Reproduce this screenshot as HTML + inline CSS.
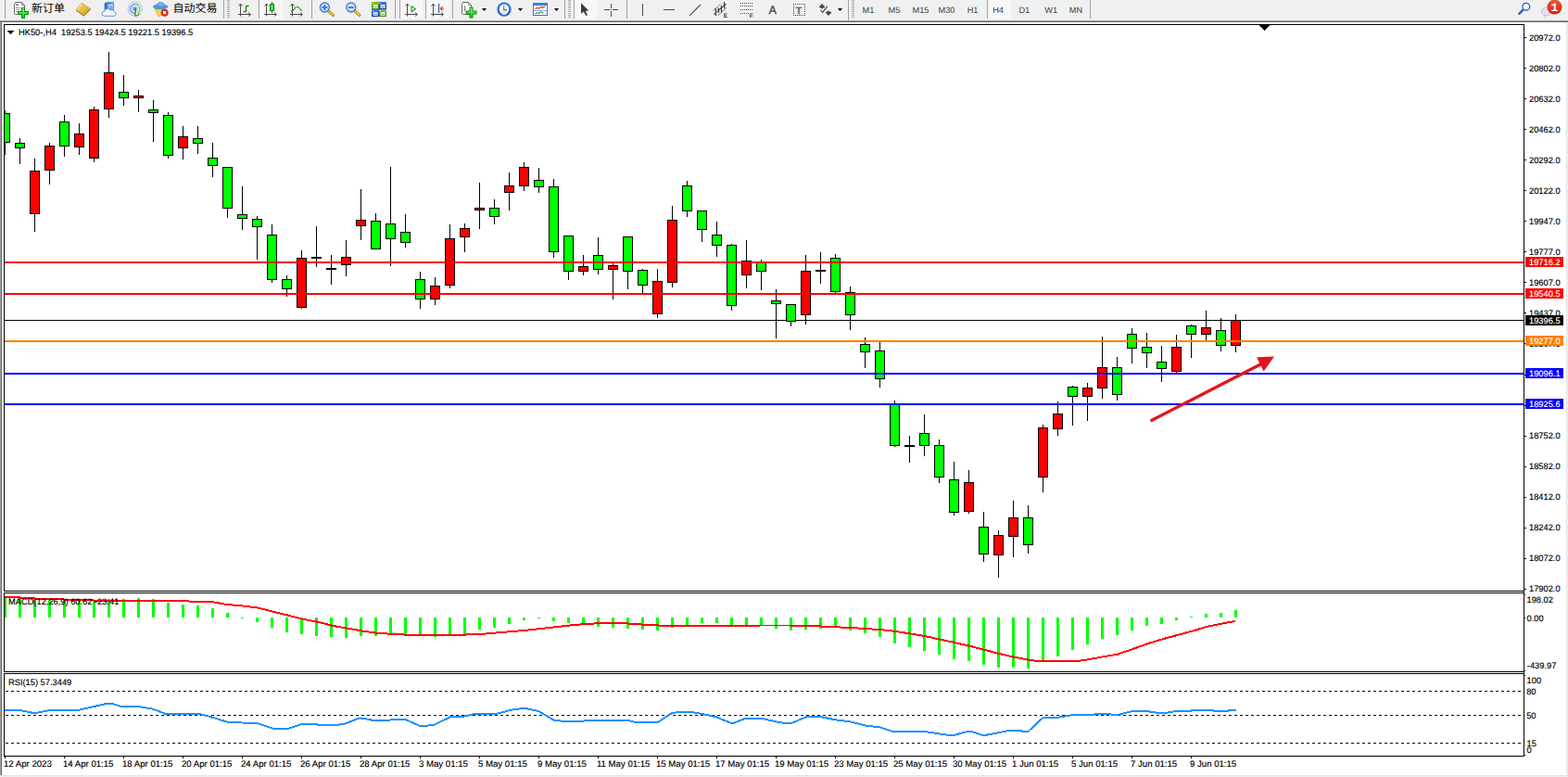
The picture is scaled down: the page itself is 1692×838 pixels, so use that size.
<!DOCTYPE html>
<html><head><meta charset="utf-8"><title>HK50 H4</title>
<style>
html,body{margin:0;padding:0;background:#fff}
body{width:1692px;height:838px;overflow:hidden;position:relative;font-family:"Liberation Sans",sans-serif}
svg{position:absolute;left:0;top:0;display:block}
text{font-family:"Liberation Sans",sans-serif;font-size:9.3px;text-rendering:geometricPrecision}
svg>text{paint-order:stroke;stroke-width:.15px}
svg>text[fill="#000"]{stroke:#000}
svg>text[fill="#fff"]{stroke:#fff}
</style></head><body>
<svg width="1692" height="838" viewBox="0 0 1692 838" shape-rendering="crispEdges">
<rect x="0" y="0" width="1692" height="838" fill="#fff"/>
<rect x="0" y="0" width="1692" height="22" fill="#f0f0f0"/>
<rect x="0" y="22" width="1692" height="1" fill="#a0a0a0"/>
<rect x="0" y="23" width="1692" height="1" fill="#696969"/>
<rect x="0" y="24" width="1" height="814" fill="#a0a0a0"/>
<rect x="1" y="24" width="1" height="814" fill="#696969"/>
<rect x="1690" y="24" width="1" height="814" fill="#e3e3e3"/>
<rect x="1691" y="24" width="1" height="814" fill="#f0f0f0"/>
<rect x="0" y="836" width="1692" height="1" fill="#e3e3e3"/>
<rect x="0" y="837" width="1692" height="1" fill="#f0f0f0"/>
<rect x="1644" y="26" width="1" height="790" fill="#000"/>
<rect x="4" y="26" width="1641" height="1" fill="#000"/>
<rect x="4" y="637" width="1641" height="1" fill="#000"/>
<rect x="4" y="26" width="1" height="612" fill="#000"/>
<rect x="4" y="639" width="1641" height="1" fill="#000"/>
<rect x="4" y="724" width="1641" height="1" fill="#000"/>
<rect x="4" y="639" width="1" height="86" fill="#000"/>
<rect x="4" y="726" width="1641" height="1" fill="#000"/>
<rect x="4" y="815" width="1641" height="1" fill="#000"/>
<rect x="4" y="726" width="1" height="90" fill="#000"/>
<rect x="5" y="345" width="1639" height="1" fill="#000"/>
<rect x="5" y="119" width="1" height="48" fill="#000"/>
<rect x="5" y="122" width="6" height="32" fill="#000"/>
<rect x="5" y="123" width="5" height="30" fill="#0f0"/>
<rect x="21" y="149" width="1" height="28" fill="#000"/>
<rect x="16" y="154" width="11" height="6" fill="#000"/>
<rect x="17" y="155" width="9" height="4" fill="#0f0"/>
<rect x="37" y="171" width="1" height="79" fill="#000"/>
<rect x="32" y="184" width="11" height="47" fill="#000"/>
<rect x="33" y="185" width="9" height="45" fill="#f00"/>
<rect x="53" y="154" width="1" height="45" fill="#000"/>
<rect x="48" y="157" width="11" height="27" fill="#000"/>
<rect x="49" y="158" width="9" height="25" fill="#f00"/>
<rect x="69" y="124" width="1" height="45" fill="#000"/>
<rect x="64" y="131" width="11" height="27" fill="#000"/>
<rect x="65" y="132" width="9" height="25" fill="#0f0"/>
<rect x="85" y="133" width="1" height="34" fill="#000"/>
<rect x="80" y="144" width="11" height="15" fill="#000"/>
<rect x="81" y="145" width="9" height="13" fill="#f00"/>
<rect x="101" y="115" width="1" height="60" fill="#000"/>
<rect x="96" y="118" width="11" height="53" fill="#000"/>
<rect x="97" y="119" width="9" height="51" fill="#f00"/>
<rect x="117" y="56" width="1" height="71" fill="#000"/>
<rect x="112" y="78" width="11" height="40" fill="#000"/>
<rect x="113" y="79" width="9" height="38" fill="#f00"/>
<rect x="133" y="81" width="1" height="33" fill="#000"/>
<rect x="128" y="99" width="11" height="7" fill="#000"/>
<rect x="129" y="100" width="9" height="5" fill="#0f0"/>
<rect x="149" y="97" width="1" height="24" fill="#000"/>
<rect x="144" y="103" width="11" height="3" fill="#000"/>
<rect x="145" y="104" width="9" height="1" fill="#f00"/>
<rect x="165" y="108" width="1" height="45" fill="#000"/>
<rect x="160" y="118" width="11" height="4" fill="#000"/>
<rect x="161" y="119" width="9" height="2" fill="#0f0"/>
<rect x="181" y="121" width="1" height="50" fill="#000"/>
<rect x="176" y="124" width="11" height="44" fill="#000"/>
<rect x="177" y="125" width="9" height="42" fill="#0f0"/>
<rect x="197" y="136" width="1" height="36" fill="#000"/>
<rect x="192" y="147" width="11" height="13" fill="#000"/>
<rect x="193" y="148" width="9" height="11" fill="#f00"/>
<rect x="213" y="136" width="1" height="30" fill="#000"/>
<rect x="208" y="149" width="11" height="6" fill="#000"/>
<rect x="209" y="150" width="9" height="4" fill="#0f0"/>
<rect x="229" y="154" width="1" height="37" fill="#000"/>
<rect x="224" y="170" width="11" height="9" fill="#000"/>
<rect x="225" y="171" width="9" height="7" fill="#0f0"/>
<rect x="245" y="180" width="1" height="55" fill="#000"/>
<rect x="240" y="180" width="11" height="45" fill="#000"/>
<rect x="241" y="181" width="9" height="43" fill="#0f0"/>
<rect x="261" y="201" width="1" height="47" fill="#000"/>
<rect x="256" y="231" width="11" height="5" fill="#000"/>
<rect x="257" y="232" width="9" height="3" fill="#0f0"/>
<rect x="277" y="233" width="1" height="47" fill="#000"/>
<rect x="272" y="236" width="11" height="9" fill="#000"/>
<rect x="273" y="237" width="9" height="7" fill="#0f0"/>
<rect x="293" y="242" width="1" height="63" fill="#000"/>
<rect x="288" y="253" width="11" height="49" fill="#000"/>
<rect x="289" y="254" width="9" height="47" fill="#0f0"/>
<rect x="309" y="297" width="1" height="23" fill="#000"/>
<rect x="304" y="301" width="11" height="11" fill="#000"/>
<rect x="305" y="302" width="9" height="9" fill="#0f0"/>
<rect x="325" y="270" width="1" height="63" fill="#000"/>
<rect x="320" y="278" width="11" height="54" fill="#000"/>
<rect x="321" y="279" width="9" height="52" fill="#f00"/>
<rect x="341" y="244" width="1" height="44" fill="#000"/>
<rect x="336" y="277" width="11" height="2" fill="#000"/>
<rect x="357" y="275" width="1" height="32" fill="#000"/>
<rect x="352" y="289" width="11" height="2" fill="#000"/>
<rect x="373" y="259" width="1" height="39" fill="#000"/>
<rect x="368" y="277" width="11" height="9" fill="#000"/>
<rect x="369" y="278" width="9" height="7" fill="#f00"/>
<rect x="389" y="204" width="1" height="55" fill="#000"/>
<rect x="384" y="237" width="11" height="7" fill="#000"/>
<rect x="385" y="238" width="9" height="5" fill="#f00"/>
<rect x="405" y="230" width="1" height="39" fill="#000"/>
<rect x="400" y="238" width="11" height="31" fill="#000"/>
<rect x="401" y="239" width="9" height="29" fill="#0f0"/>
<rect x="421" y="180" width="1" height="107" fill="#000"/>
<rect x="416" y="241" width="11" height="17" fill="#000"/>
<rect x="417" y="242" width="9" height="15" fill="#0f0"/>
<rect x="437" y="231" width="1" height="36" fill="#000"/>
<rect x="432" y="250" width="11" height="12" fill="#000"/>
<rect x="433" y="251" width="9" height="10" fill="#0f0"/>
<rect x="453" y="293" width="1" height="40" fill="#000"/>
<rect x="448" y="301" width="11" height="22" fill="#000"/>
<rect x="449" y="302" width="9" height="20" fill="#0f0"/>
<rect x="469" y="299" width="1" height="30" fill="#000"/>
<rect x="464" y="308" width="11" height="15" fill="#000"/>
<rect x="465" y="309" width="9" height="13" fill="#f00"/>
<rect x="485" y="242" width="1" height="69" fill="#000"/>
<rect x="480" y="257" width="11" height="51" fill="#000"/>
<rect x="481" y="258" width="9" height="49" fill="#f00"/>
<rect x="501" y="241" width="1" height="31" fill="#000"/>
<rect x="496" y="246" width="11" height="10" fill="#000"/>
<rect x="497" y="247" width="9" height="8" fill="#f00"/>
<rect x="517" y="197" width="1" height="50" fill="#000"/>
<rect x="512" y="224" width="11" height="3" fill="#000"/>
<rect x="513" y="225" width="9" height="1" fill="#f00"/>
<rect x="533" y="215" width="1" height="27" fill="#000"/>
<rect x="528" y="224" width="11" height="10" fill="#000"/>
<rect x="529" y="225" width="9" height="8" fill="#0f0"/>
<rect x="549" y="186" width="1" height="41" fill="#000"/>
<rect x="544" y="200" width="11" height="8" fill="#000"/>
<rect x="545" y="201" width="9" height="6" fill="#f00"/>
<rect x="565" y="175" width="1" height="31" fill="#000"/>
<rect x="560" y="180" width="11" height="21" fill="#000"/>
<rect x="561" y="181" width="9" height="19" fill="#f00"/>
<rect x="581" y="181" width="1" height="27" fill="#000"/>
<rect x="576" y="194" width="11" height="8" fill="#000"/>
<rect x="577" y="195" width="9" height="6" fill="#0f0"/>
<rect x="597" y="193" width="1" height="85" fill="#000"/>
<rect x="592" y="201" width="11" height="71" fill="#000"/>
<rect x="593" y="202" width="9" height="69" fill="#0f0"/>
<rect x="613" y="254" width="1" height="48" fill="#000"/>
<rect x="608" y="254" width="11" height="39" fill="#000"/>
<rect x="609" y="255" width="9" height="37" fill="#0f0"/>
<rect x="629" y="275" width="1" height="22" fill="#000"/>
<rect x="624" y="287" width="11" height="6" fill="#000"/>
<rect x="625" y="288" width="9" height="4" fill="#f00"/>
<rect x="645" y="256" width="1" height="40" fill="#000"/>
<rect x="640" y="275" width="11" height="16" fill="#000"/>
<rect x="641" y="276" width="9" height="14" fill="#0f0"/>
<rect x="661" y="284" width="1" height="39" fill="#000"/>
<rect x="656" y="286" width="11" height="5" fill="#000"/>
<rect x="657" y="287" width="9" height="3" fill="#f00"/>
<rect x="677" y="255" width="1" height="57" fill="#000"/>
<rect x="672" y="255" width="11" height="38" fill="#000"/>
<rect x="673" y="256" width="9" height="36" fill="#0f0"/>
<rect x="693" y="290" width="1" height="26" fill="#000"/>
<rect x="688" y="291" width="11" height="17" fill="#000"/>
<rect x="689" y="292" width="9" height="15" fill="#0f0"/>
<rect x="709" y="290" width="1" height="53" fill="#000"/>
<rect x="704" y="303" width="11" height="36" fill="#000"/>
<rect x="705" y="304" width="9" height="34" fill="#f00"/>
<rect x="725" y="222" width="1" height="88" fill="#000"/>
<rect x="720" y="237" width="11" height="68" fill="#000"/>
<rect x="721" y="238" width="9" height="66" fill="#f00"/>
<rect x="741" y="195" width="1" height="39" fill="#000"/>
<rect x="736" y="200" width="11" height="28" fill="#000"/>
<rect x="737" y="201" width="9" height="26" fill="#0f0"/>
<rect x="757" y="227" width="1" height="34" fill="#000"/>
<rect x="752" y="227" width="11" height="21" fill="#000"/>
<rect x="753" y="228" width="9" height="19" fill="#0f0"/>
<rect x="773" y="239" width="1" height="38" fill="#000"/>
<rect x="768" y="253" width="11" height="12" fill="#000"/>
<rect x="769" y="254" width="9" height="10" fill="#0f0"/>
<rect x="789" y="263" width="1" height="72" fill="#000"/>
<rect x="784" y="264" width="11" height="66" fill="#000"/>
<rect x="785" y="265" width="9" height="64" fill="#0f0"/>
<rect x="805" y="259" width="1" height="52" fill="#000"/>
<rect x="800" y="281" width="11" height="16" fill="#000"/>
<rect x="801" y="282" width="9" height="14" fill="#f00"/>
<rect x="821" y="280" width="1" height="33" fill="#000"/>
<rect x="816" y="283" width="11" height="10" fill="#000"/>
<rect x="817" y="284" width="9" height="8" fill="#0f0"/>
<rect x="837" y="312" width="1" height="53" fill="#000"/>
<rect x="832" y="324" width="11" height="4" fill="#000"/>
<rect x="833" y="325" width="9" height="2" fill="#0f0"/>
<rect x="853" y="328" width="1" height="24" fill="#000"/>
<rect x="848" y="328" width="11" height="19" fill="#000"/>
<rect x="849" y="329" width="9" height="17" fill="#0f0"/>
<rect x="869" y="275" width="1" height="75" fill="#000"/>
<rect x="864" y="292" width="11" height="48" fill="#000"/>
<rect x="865" y="293" width="9" height="46" fill="#f00"/>
<rect x="885" y="272" width="1" height="34" fill="#000"/>
<rect x="880" y="291" width="11" height="2" fill="#000"/>
<rect x="901" y="274" width="1" height="42" fill="#000"/>
<rect x="896" y="278" width="11" height="37" fill="#000"/>
<rect x="897" y="279" width="9" height="35" fill="#0f0"/>
<rect x="917" y="309" width="1" height="47" fill="#000"/>
<rect x="912" y="315" width="11" height="25" fill="#000"/>
<rect x="913" y="316" width="9" height="23" fill="#0f0"/>
<rect x="933" y="364" width="1" height="33" fill="#000"/>
<rect x="928" y="371" width="11" height="9" fill="#000"/>
<rect x="929" y="372" width="9" height="7" fill="#0f0"/>
<rect x="949" y="369" width="1" height="49" fill="#000"/>
<rect x="944" y="378" width="11" height="31" fill="#000"/>
<rect x="945" y="379" width="9" height="29" fill="#0f0"/>
<rect x="965" y="432" width="1" height="50" fill="#000"/>
<rect x="960" y="436" width="11" height="45" fill="#000"/>
<rect x="961" y="437" width="9" height="43" fill="#0f0"/>
<rect x="981" y="470" width="1" height="29" fill="#000"/>
<rect x="976" y="480" width="11" height="2" fill="#000"/>
<rect x="997" y="447" width="1" height="45" fill="#000"/>
<rect x="992" y="467" width="11" height="14" fill="#000"/>
<rect x="993" y="468" width="9" height="12" fill="#0f0"/>
<rect x="1013" y="474" width="1" height="47" fill="#000"/>
<rect x="1008" y="480" width="11" height="35" fill="#000"/>
<rect x="1009" y="481" width="9" height="33" fill="#0f0"/>
<rect x="1029" y="498" width="1" height="58" fill="#000"/>
<rect x="1024" y="517" width="11" height="36" fill="#000"/>
<rect x="1025" y="518" width="9" height="34" fill="#0f0"/>
<rect x="1045" y="507" width="1" height="47" fill="#000"/>
<rect x="1040" y="520" width="11" height="32" fill="#000"/>
<rect x="1041" y="521" width="9" height="30" fill="#f00"/>
<rect x="1061" y="552" width="1" height="54" fill="#000"/>
<rect x="1056" y="568" width="11" height="30" fill="#000"/>
<rect x="1057" y="569" width="9" height="28" fill="#0f0"/>
<rect x="1077" y="572" width="1" height="51" fill="#000"/>
<rect x="1072" y="577" width="11" height="22" fill="#000"/>
<rect x="1073" y="578" width="9" height="20" fill="#f00"/>
<rect x="1093" y="540" width="1" height="61" fill="#000"/>
<rect x="1088" y="558" width="11" height="21" fill="#000"/>
<rect x="1089" y="559" width="9" height="19" fill="#f00"/>
<rect x="1109" y="545" width="1" height="52" fill="#000"/>
<rect x="1104" y="558" width="11" height="30" fill="#000"/>
<rect x="1105" y="559" width="9" height="28" fill="#0f0"/>
<rect x="1125" y="458" width="1" height="73" fill="#000"/>
<rect x="1120" y="461" width="11" height="54" fill="#000"/>
<rect x="1121" y="462" width="9" height="52" fill="#f00"/>
<rect x="1141" y="433" width="1" height="37" fill="#000"/>
<rect x="1136" y="446" width="11" height="17" fill="#000"/>
<rect x="1137" y="447" width="9" height="15" fill="#f00"/>
<rect x="1157" y="416" width="1" height="43" fill="#000"/>
<rect x="1152" y="417" width="11" height="11" fill="#000"/>
<rect x="1153" y="418" width="9" height="9" fill="#0f0"/>
<rect x="1173" y="413" width="1" height="41" fill="#000"/>
<rect x="1168" y="418" width="11" height="10" fill="#000"/>
<rect x="1169" y="419" width="9" height="8" fill="#f00"/>
<rect x="1189" y="363" width="1" height="67" fill="#000"/>
<rect x="1184" y="396" width="11" height="23" fill="#000"/>
<rect x="1185" y="397" width="9" height="21" fill="#f00"/>
<rect x="1205" y="385" width="1" height="47" fill="#000"/>
<rect x="1200" y="396" width="11" height="30" fill="#000"/>
<rect x="1201" y="397" width="9" height="28" fill="#0f0"/>
<rect x="1221" y="354" width="1" height="38" fill="#000"/>
<rect x="1216" y="360" width="11" height="16" fill="#000"/>
<rect x="1217" y="361" width="9" height="14" fill="#0f0"/>
<rect x="1237" y="359" width="1" height="38" fill="#000"/>
<rect x="1232" y="374" width="11" height="7" fill="#000"/>
<rect x="1233" y="375" width="9" height="5" fill="#0f0"/>
<rect x="1253" y="373" width="1" height="39" fill="#000"/>
<rect x="1248" y="390" width="11" height="8" fill="#000"/>
<rect x="1249" y="391" width="9" height="6" fill="#0f0"/>
<rect x="1269" y="361" width="1" height="42" fill="#000"/>
<rect x="1264" y="374" width="11" height="27" fill="#000"/>
<rect x="1265" y="375" width="9" height="25" fill="#f00"/>
<rect x="1285" y="350" width="1" height="36" fill="#000"/>
<rect x="1280" y="351" width="11" height="10" fill="#000"/>
<rect x="1281" y="352" width="9" height="8" fill="#0f0"/>
<rect x="1301" y="335" width="1" height="34" fill="#000"/>
<rect x="1296" y="353" width="11" height="8" fill="#000"/>
<rect x="1297" y="354" width="9" height="6" fill="#f00"/>
<rect x="1317" y="343" width="1" height="36" fill="#000"/>
<rect x="1312" y="356" width="11" height="17" fill="#000"/>
<rect x="1313" y="357" width="9" height="15" fill="#0f0"/>
<rect x="1333" y="339" width="1" height="41" fill="#000"/>
<rect x="1328" y="345" width="11" height="28" fill="#000"/>
<rect x="1329" y="346" width="9" height="26" fill="#f00"/>
<rect x="5" y="282" width="1639" height="2" fill="#f00"/>
<rect x="5" y="316" width="1639" height="2" fill="#f00"/>
<rect x="5" y="367" width="1639" height="2" fill="#ff8000"/>
<rect x="5" y="402" width="1639" height="2" fill="#00f"/>
<rect x="5" y="435" width="1639" height="2" fill="#00f"/>
<g shape-rendering="auto"><line x1="1241.5" y1="454" x2="1361" y2="392.5" stroke="#e3141e" stroke-width="3.2"/><polygon points="1356,385.2 1375,384.6 1363.6,400.6" fill="#e3141e"/></g>
<rect x="1359" y="27" width="11" height="1" fill="#000"/>
<rect x="1360" y="28" width="9" height="1" fill="#000"/>
<rect x="1361" y="29" width="7" height="1" fill="#000"/>
<rect x="1362" y="30" width="5" height="1" fill="#000"/>
<rect x="1363" y="31" width="3" height="1" fill="#000"/>
<rect x="1364" y="32" width="1" height="1" fill="#000"/>
<rect x="8" y="33" width="7" height="1" fill="#000"/>
<rect x="9" y="34" width="5" height="1" fill="#000"/>
<rect x="10" y="35" width="3" height="1" fill="#000"/>
<rect x="11" y="36" width="1" height="1" fill="#000"/>
<text x="20" y="38" fill="#000" text-anchor="start">HK50-,H4&#160;&#160;19253.5 19424.5 19221.5 19396.5</text>
<rect x="1645" y="40" width="2" height="1" fill="#000"/>
<text x="1650" y="43.6" fill="#000" text-anchor="start">20972.0</text>
<rect x="1645" y="73" width="2" height="1" fill="#000"/>
<text x="1650" y="76.6" fill="#000" text-anchor="start">20802.0</text>
<rect x="1645" y="106" width="2" height="1" fill="#000"/>
<text x="1650" y="109.7" fill="#000" text-anchor="start">20632.0</text>
<rect x="1645" y="139" width="2" height="1" fill="#000"/>
<text x="1650" y="142.7" fill="#000" text-anchor="start">20462.0</text>
<rect x="1645" y="172" width="2" height="1" fill="#000"/>
<text x="1650" y="175.7" fill="#000" text-anchor="start">20292.0</text>
<rect x="1645" y="205" width="2" height="1" fill="#000"/>
<text x="1650" y="208.8" fill="#000" text-anchor="start">20122.0</text>
<rect x="1645" y="238" width="2" height="1" fill="#000"/>
<text x="1650" y="241.8" fill="#000" text-anchor="start">19947.0</text>
<rect x="1645" y="271" width="2" height="1" fill="#000"/>
<text x="1650" y="274.8" fill="#000" text-anchor="start">19777.0</text>
<rect x="1645" y="304" width="2" height="1" fill="#000"/>
<text x="1650" y="307.8" fill="#000" text-anchor="start">19607.0</text>
<rect x="1645" y="337" width="2" height="1" fill="#000"/>
<text x="1650" y="340.9" fill="#000" text-anchor="start">19437.0</text>
<rect x="1645" y="370" width="2" height="1" fill="#000"/>
<text x="1650" y="373.9" fill="#000" text-anchor="start">19267.0</text>
<rect x="1645" y="404" width="2" height="1" fill="#000"/>
<text x="1650" y="406.9" fill="#000" text-anchor="start">19097.0</text>
<rect x="1645" y="437" width="2" height="1" fill="#000"/>
<text x="1650" y="440.0" fill="#000" text-anchor="start">18927.0</text>
<rect x="1645" y="470" width="2" height="1" fill="#000"/>
<text x="1650" y="473.0" fill="#000" text-anchor="start">18752.0</text>
<rect x="1645" y="503" width="2" height="1" fill="#000"/>
<text x="1650" y="506.0" fill="#000" text-anchor="start">18582.0</text>
<rect x="1645" y="536" width="2" height="1" fill="#000"/>
<text x="1650" y="539.1" fill="#000" text-anchor="start">18412.0</text>
<rect x="1645" y="569" width="2" height="1" fill="#000"/>
<text x="1650" y="572.1" fill="#000" text-anchor="start">18242.0</text>
<rect x="1645" y="602" width="2" height="1" fill="#000"/>
<text x="1650" y="605.1" fill="#000" text-anchor="start">18072.0</text>
<rect x="1645" y="635" width="2" height="1" fill="#000"/>
<text x="1650" y="638.1" fill="#000" text-anchor="start">17902.0</text>
<rect x="1646" y="277" width="41" height="11" fill="#f00"/>
<text x="1650" y="286.3" fill="#fff" text-anchor="start">19716.2</text>
<rect x="1646" y="311" width="41" height="11" fill="#f00"/>
<text x="1650" y="320.3" fill="#fff" text-anchor="start">19540.5</text>
<rect x="1646" y="340" width="41" height="11" fill="#000"/>
<text x="1650" y="349.3" fill="#fff" text-anchor="start">19396.5</text>
<rect x="1646" y="362" width="41" height="11" fill="#ff8000"/>
<text x="1650" y="371.3" fill="#fff" text-anchor="start">19277.0</text>
<rect x="1646" y="397" width="41" height="11" fill="#00f"/>
<text x="1650" y="406.3" fill="#fff" text-anchor="start">19096.1</text>
<rect x="1646" y="430" width="41" height="11" fill="#00f"/>
<text x="1650" y="439.3" fill="#fff" text-anchor="start">18925.6</text>
<rect x="5" y="645" width="2" height="21" fill="#0f0"/>
<rect x="20" y="645" width="3" height="21" fill="#0f0"/>
<rect x="36" y="646" width="3" height="20" fill="#0f0"/>
<rect x="52" y="647" width="3" height="19" fill="#0f0"/>
<rect x="68" y="647" width="3" height="19" fill="#0f0"/>
<rect x="84" y="648" width="3" height="18" fill="#0f0"/>
<rect x="100" y="647" width="3" height="19" fill="#0f0"/>
<rect x="116" y="646" width="3" height="20" fill="#0f0"/>
<rect x="132" y="646" width="3" height="20" fill="#0f0"/>
<rect x="148" y="645" width="3" height="21" fill="#0f0"/>
<rect x="164" y="646" width="3" height="20" fill="#0f0"/>
<rect x="180" y="650" width="3" height="16" fill="#0f0"/>
<rect x="196" y="652" width="3" height="14" fill="#0f0"/>
<rect x="212" y="653" width="3" height="13" fill="#0f0"/>
<rect x="228" y="656" width="3" height="10" fill="#0f0"/>
<rect x="244" y="661" width="3" height="5" fill="#0f0"/>
<rect x="260" y="666" width="3" height="1" fill="#0f0"/>
<rect x="276" y="666" width="3" height="5" fill="#0f0"/>
<rect x="292" y="666" width="3" height="11" fill="#0f0"/>
<rect x="308" y="666" width="3" height="16" fill="#0f0"/>
<rect x="324" y="666" width="3" height="18" fill="#0f0"/>
<rect x="340" y="666" width="3" height="20" fill="#0f0"/>
<rect x="356" y="666" width="3" height="21" fill="#0f0"/>
<rect x="372" y="666" width="3" height="22" fill="#0f0"/>
<rect x="388" y="666" width="3" height="20" fill="#0f0"/>
<rect x="404" y="666" width="3" height="20" fill="#0f0"/>
<rect x="420" y="666" width="3" height="19" fill="#0f0"/>
<rect x="436" y="666" width="3" height="19" fill="#0f0"/>
<rect x="452" y="666" width="3" height="19" fill="#0f0"/>
<rect x="468" y="666" width="3" height="21" fill="#0f0"/>
<rect x="484" y="666" width="3" height="19" fill="#0f0"/>
<rect x="500" y="666" width="3" height="18" fill="#0f0"/>
<rect x="516" y="666" width="3" height="13" fill="#0f0"/>
<rect x="532" y="666" width="3" height="11" fill="#0f0"/>
<rect x="548" y="666" width="3" height="7" fill="#0f0"/>
<rect x="564" y="666" width="3" height="3" fill="#0f0"/>
<rect x="580" y="666" width="3" height="1" fill="#0f0"/>
<rect x="596" y="666" width="3" height="4" fill="#0f0"/>
<rect x="612" y="666" width="3" height="6" fill="#0f0"/>
<rect x="628" y="666" width="3" height="7" fill="#0f0"/>
<rect x="644" y="666" width="3" height="10" fill="#0f0"/>
<rect x="660" y="666" width="3" height="11" fill="#0f0"/>
<rect x="676" y="666" width="3" height="12" fill="#0f0"/>
<rect x="692" y="666" width="3" height="13" fill="#0f0"/>
<rect x="708" y="666" width="3" height="14" fill="#0f0"/>
<rect x="724" y="666" width="3" height="11" fill="#0f0"/>
<rect x="740" y="666" width="3" height="8" fill="#0f0"/>
<rect x="756" y="666" width="3" height="6" fill="#0f0"/>
<rect x="772" y="666" width="3" height="6" fill="#0f0"/>
<rect x="788" y="666" width="3" height="8" fill="#0f0"/>
<rect x="804" y="666" width="3" height="8" fill="#0f0"/>
<rect x="820" y="666" width="3" height="8" fill="#0f0"/>
<rect x="836" y="666" width="3" height="12" fill="#0f0"/>
<rect x="852" y="666" width="3" height="14" fill="#0f0"/>
<rect x="868" y="666" width="3" height="13" fill="#0f0"/>
<rect x="884" y="666" width="3" height="12" fill="#0f0"/>
<rect x="900" y="666" width="3" height="11" fill="#0f0"/>
<rect x="916" y="666" width="3" height="14" fill="#0f0"/>
<rect x="932" y="666" width="3" height="17" fill="#0f0"/>
<rect x="948" y="666" width="3" height="21" fill="#0f0"/>
<rect x="964" y="666" width="3" height="28" fill="#0f0"/>
<rect x="980" y="666" width="3" height="32" fill="#0f0"/>
<rect x="996" y="666" width="3" height="36" fill="#0f0"/>
<rect x="1012" y="666" width="3" height="40" fill="#0f0"/>
<rect x="1028" y="666" width="3" height="45" fill="#0f0"/>
<rect x="1044" y="666" width="3" height="47" fill="#0f0"/>
<rect x="1060" y="666" width="3" height="51" fill="#0f0"/>
<rect x="1076" y="666" width="3" height="54" fill="#0f0"/>
<rect x="1092" y="666" width="3" height="54" fill="#0f0"/>
<rect x="1108" y="666" width="3" height="55" fill="#0f0"/>
<rect x="1124" y="666" width="3" height="46" fill="#0f0"/>
<rect x="1140" y="666" width="3" height="42" fill="#0f0"/>
<rect x="1156" y="666" width="3" height="35" fill="#0f0"/>
<rect x="1172" y="666" width="3" height="29" fill="#0f0"/>
<rect x="1188" y="666" width="3" height="23" fill="#0f0"/>
<rect x="1204" y="666" width="3" height="19" fill="#0f0"/>
<rect x="1220" y="666" width="3" height="14" fill="#0f0"/>
<rect x="1236" y="666" width="3" height="9" fill="#0f0"/>
<rect x="1252" y="666" width="3" height="7" fill="#0f0"/>
<rect x="1268" y="666" width="3" height="3" fill="#0f0"/>
<rect x="1284" y="665" width="3" height="1" fill="#0f0"/>
<rect x="1300" y="662" width="3" height="4" fill="#0f0"/>
<rect x="1316" y="661" width="3" height="5" fill="#0f0"/>
<rect x="1332" y="658" width="3" height="8" fill="#0f0"/>
<polyline points="5,644 21,644 22,645 53,646 85,647 117,648 151,648 197,648.3 229,649.2 245,652 261,653.4 277,655.3 293,659.2 310,663.4 326,667.5 343,670.8 359.5,675 376,677.8 392.7,680.8 409,683 426,684 442,684.8 500,684.8 509,684 520,683.9 536.6,682.4 553,681 570,679.5 586,677.8 603,675.8 619.5,674 636,672.8 652.7,671.8 669,671.8 686,673.2 702,674 719,675 780,675 821.5,674.5 853,674.5 886,675.5 917.7,677 949,679 965.8,680.8 981.5,683.3 997.4,685.9 1013.5,689.4 1029.5,692.9 1045.5,696.5 1061.6,700.7 1077.3,704.8 1093.4,708.5 1109.5,711.6 1118,712.8 1164.4,712.8 1172.7,711.5 1189.3,708.5 1205.9,705.7 1222.5,699.9 1239,694 1255.6,689 1272.2,684.5 1288.8,680 1301.8,676 1317,672.8 1333,670" fill="none" stroke="#f00" stroke-width="2"/>
<text x="9" y="652" fill="#000" text-anchor="start">MACD(12,26,9) 60.62 -23.41</text>
<text x="1647.5" y="650" fill="#000" text-anchor="start">198.02</text>
<text x="1647.5" y="670" fill="#000" text-anchor="start">0.00</text>
<text x="1647.8" y="721" fill="#000" text-anchor="start">-439.97</text>
<rect x="1645" y="641" width="1" height="1" fill="#000"/>
<rect x="1645" y="666" width="1" height="1" fill="#000"/>
<rect x="1645" y="723" width="1" height="1" fill="#000"/>
<rect x="1645" y="728" width="1" height="1" fill="#000"/>
<line x1="6" y1="745.5" x2="1644" y2="745.5" stroke="#000" stroke-width="1" stroke-dasharray="3 3"/>
<line x1="6" y1="771.5" x2="1644" y2="771.5" stroke="#000" stroke-width="1" stroke-dasharray="3 3"/>
<line x1="6" y1="801.5" x2="1644" y2="801.5" stroke="#000" stroke-width="1" stroke-dasharray="3 3"/>
<rect x="1645" y="814" width="1" height="1" fill="#000"/>
<polyline points="5,765.8 21,765.8 34,768.6 40,768.8 54,765.8 84.4,765.8 116.6,758.6 120.6,758.6 130.6,762 148.7,762 164.8,764.6 179.9,770.4 190,769.6 213,769.6 227,773 246,778.9 261,779.5 277,779.9 294.4,785.7 311.5,785.7 326.6,780.7 340,780.7 343,781.7 365,781.7 373,780.3 388,774.4 393,774.8 401,776.6 420.5,776.6 424.5,775.6 436.6,775.6 452.6,782.7 460.7,782.7 468.7,781.7 486.8,772.8 500.9,772.6 513,769.8 537,769.6 551,765.8 561,764.4 569,764.4 581,767 598,776.8 607.4,777.8 629.5,777.8 631.5,776.8 677,776.8 686,778.9 710,778.9 725.4,768.8 736.5,767.8 744.5,767.8 756.6,769.8 772.6,773.2 788.7,779.9 791.7,779.9 804.8,774.6 820.9,774.6 839,778.7 847,779.9 854,779.9 871,772.8 884,772.8 901,776.2 917.3,778.3 934.4,782.7 949.5,784.3 963.5,788.9 997,788.9 1022,792.7 1030,792.7 1044.4,788.9 1048.4,788.9 1059.5,792.7 1064.5,792.7 1090.6,787.7 1100.7,787.7 1102.7,788.7 1109.7,788.7 1125.8,773.8 1140.9,773.8 1159,770.8 1181,770.6 1183,769.6 1197,769.8 1199,770.6 1208,770.6 1223,766.8 1236,766.8 1247.4,768.6 1259.4,768.6 1270.5,766.8 1285,766.8 1287,765.8 1308,765.8 1310,766.8 1325,766.8 1327,765.8 1334,765.8" fill="none" stroke="#1e90ff" stroke-width="2"/>
<text x="9" y="739" fill="#000" text-anchor="start">RSI(15) 57.3449</text>
<text x="1647.6" y="737" fill="#000" text-anchor="start">100</text>
<text x="1647.2" y="749" fill="#000" text-anchor="start">80</text>
<text x="1647.2" y="775" fill="#000" text-anchor="start">50</text>
<text x="1647.6" y="805" fill="#000" text-anchor="start">15</text>
<text x="1647.6" y="812" fill="#000" text-anchor="start">0</text>
<rect x="5" y="816" width="1" height="2" fill="#000"/>
<text x="4" y="827.3" fill="#000" text-anchor="start" style="font-size:9.6px">12 Apr 2023</text>
<rect x="69" y="816" width="1" height="2" fill="#000"/>
<text x="68" y="827.3" fill="#000" text-anchor="start" style="font-size:9.6px">14 Apr 01:15</text>
<rect x="133" y="816" width="1" height="2" fill="#000"/>
<text x="132" y="827.3" fill="#000" text-anchor="start" style="font-size:9.6px">18 Apr 01:15</text>
<rect x="197" y="816" width="1" height="2" fill="#000"/>
<text x="196" y="827.3" fill="#000" text-anchor="start" style="font-size:9.6px">20 Apr 01:15</text>
<rect x="261" y="816" width="1" height="2" fill="#000"/>
<text x="260" y="827.3" fill="#000" text-anchor="start" style="font-size:9.6px">24 Apr 01:15</text>
<rect x="325" y="816" width="1" height="2" fill="#000"/>
<text x="324" y="827.3" fill="#000" text-anchor="start" style="font-size:9.6px">26 Apr 01:15</text>
<rect x="389" y="816" width="1" height="2" fill="#000"/>
<text x="388" y="827.3" fill="#000" text-anchor="start" style="font-size:9.6px">28 Apr 01:15</text>
<rect x="453" y="816" width="1" height="2" fill="#000"/>
<text x="452" y="827.3" fill="#000" text-anchor="start" style="font-size:9.6px">3 May 01:15</text>
<rect x="517" y="816" width="1" height="2" fill="#000"/>
<text x="516" y="827.3" fill="#000" text-anchor="start" style="font-size:9.6px">5 May 01:15</text>
<rect x="581" y="816" width="1" height="2" fill="#000"/>
<text x="580" y="827.3" fill="#000" text-anchor="start" style="font-size:9.6px">9 May 01:15</text>
<rect x="645" y="816" width="1" height="2" fill="#000"/>
<text x="644" y="827.3" fill="#000" text-anchor="start" style="font-size:9.6px">11 May 01:15</text>
<rect x="709" y="816" width="1" height="2" fill="#000"/>
<text x="708" y="827.3" fill="#000" text-anchor="start" style="font-size:9.6px">15 May 01:15</text>
<rect x="773" y="816" width="1" height="2" fill="#000"/>
<text x="772" y="827.3" fill="#000" text-anchor="start" style="font-size:9.6px">17 May 01:15</text>
<rect x="837" y="816" width="1" height="2" fill="#000"/>
<text x="836" y="827.3" fill="#000" text-anchor="start" style="font-size:9.6px">19 May 01:15</text>
<rect x="901" y="816" width="1" height="2" fill="#000"/>
<text x="900" y="827.3" fill="#000" text-anchor="start" style="font-size:9.6px">23 May 01:15</text>
<rect x="965" y="816" width="1" height="2" fill="#000"/>
<text x="964" y="827.3" fill="#000" text-anchor="start" style="font-size:9.6px">25 May 01:15</text>
<rect x="1029" y="816" width="1" height="2" fill="#000"/>
<text x="1028" y="827.3" fill="#000" text-anchor="start" style="font-size:9.6px">30 May 01:15</text>
<rect x="1093" y="816" width="1" height="2" fill="#000"/>
<text x="1092" y="827.3" fill="#000" text-anchor="start" style="font-size:9.6px">1 Jun 01:15</text>
<rect x="1157" y="816" width="1" height="2" fill="#000"/>
<text x="1156" y="827.3" fill="#000" text-anchor="start" style="font-size:9.6px">5 Jun 01:15</text>
<rect x="1221" y="816" width="1" height="2" fill="#000"/>
<text x="1220" y="827.3" fill="#000" text-anchor="start" style="font-size:9.6px">7 Jun 01:15</text>
<rect x="1285" y="816" width="1" height="2" fill="#000"/>
<text x="1284" y="827.3" fill="#000" text-anchor="start" style="font-size:9.6px">9 Jun 01:15</text>
<g shape-rendering="auto">
<defs>
<linearGradient id="gp" x1="0" y1="0" x2="0" y2="1"><stop offset="0" stop-color="#7dff7d"/><stop offset="1" stop-color="#12c412"/></linearGradient>
<linearGradient id="gb" x1="0" y1="0" x2="1" y2="1"><stop offset="0" stop-color="#fbe27a"/><stop offset="1" stop-color="#cf9a1c"/></linearGradient>
<linearGradient id="gs" x1="0" y1="0" x2="1" y2="0"><stop offset="0" stop-color="#1d6fe0"/><stop offset="1" stop-color="#7db9f5"/></linearGradient>
<linearGradient id="gr" x1="0" y1="0" x2="0" y2="1"><stop offset="0" stop-color="#ea5a3c"/><stop offset="1" stop-color="#d61d0c"/></linearGradient>
<linearGradient id="gc" x1="0" y1="0" x2="0" y2="1"><stop offset="0" stop-color="#4f8fe8"/><stop offset="1" stop-color="#1a56b8"/></linearGradient>
<linearGradient id="gz" x1="0" y1="0" x2="0" y2="1"><stop offset="0" stop-color="#e6f2ff"/><stop offset="1" stop-color="#b8d6f5"/></linearGradient>
<pattern id="sel" width="2" height="2" patternUnits="userSpaceOnUse"><rect width="2" height="2" fill="#f0f0f0"/><rect width="1" height="1" fill="#fff"/><rect x="1" y="1" width="1" height="1" fill="#fff"/></pattern>
</defs>
<rect x="5" y="0" width="1" height="20" fill="#a0a0a0" shape-rendering="crispEdges"/>
<path d="M16.5 2.5h7l3 3v9q0 1 -1 1h-9q-1 0 -1 -1v-10q0 -1 1 -1z" fill="#fff" stroke="#6a6a6a" stroke-width="1"/>
<path d="M23.5 2.5v3h3" fill="none" stroke="#8a8a8a" stroke-width="1"/>
<rect x="17" y="8.0" width="5" height="1" fill="#9a9a9a"/>
<rect x="17" y="10.0" width="4" height="1" fill="#9a9a9a"/>
<rect x="17" y="12.0" width="3" height="1" fill="#9a9a9a"/>
<rect x="17" y="4.5" width="3" height="1.4" fill="#777"/>
<path d="M23 8h4v4h4v4h-4v4h-4v-4h-4v-4h4z" fill="#0c8c0c"/>
<path d="M24 9h2v4h4v2h-4v4h-2v-4h-4v-2h4z" fill="url(#gp)"/>
<text x="34" y="13.2" fill="#000" text-anchor="start" style="font-size:12px;font-family:'Liberation Sans','Noto Sans CJK SC',sans-serif">新订单</text>
<path d="M82 11.6L90.4 17.8L97.8 10.6L97.4 9.2L90.4 16L82.4 10.4z" fill="#a8700c"/>
<path d="M88 3.2L97.5 9.6L90.4 16.4L82.2 10.6z" fill="url(#gb)" stroke="#c08a18" stroke-width=".6" stroke-linejoin="round"/>
<path d="M88 4.2L84 10.4" stroke="#fff3b0" stroke-width="1" opacity=".8"/>
<path d="M113 3.5L116 2.5H122.5V10.5H113z" fill="url(#gs)" stroke="#1a5fc8" stroke-width=".6"/>
<rect x="116.5" y="5" width="5" height="1.2" fill="#e8f2ff"/><rect x="116.5" y="7.5" width="3" height="1" fill="#cfe3fb"/>
<path d="M112.5 17.3a2.6 2.6 0 0 1 .3-5.2a3.6 3.6 0 0 1 6.6-1.2a3 3 0 0 1 4.2 2.1a2.2 2.2 0 0 1 -.4 4.3z" fill="#eef3fb" stroke="#5f86c4" stroke-width=".9"/>
<g fill="none"><path d="M145.8 1.9a7.6 7.6 0 0 0 0 15.2" stroke="#9db9ea" stroke-width="1"/><path d="M145.8 1.9a7.6 7.6 0 0 1 4 14" stroke="#a5d3b0" stroke-width="1"/><path d="M145.8 4.4a5.1 5.1 0 0 0 0 10.2" stroke="#4a82da" stroke-width="1.1"/><path d="M145.8 4.4a5.1 5.1 0 0 1 2.4 9.6" stroke="#66b07a" stroke-width="1.1"/><path d="M145.8 6.9a2.6 2.6 0 0 0 0 5.2" stroke="#6c9ae2" stroke-width="1"/><path d="M145.8 6.9a2.6 2.6 0 0 1 0 5.2" stroke="#8cc49a" stroke-width="1"/></g>
<path d="M146 9.5V17.6" stroke="#2aa02a" stroke-width="1.5"/><path d="M146 17.4q3-.4 4.4-2.8" fill="none" stroke="#2aa02a" stroke-width="1.3"/><circle cx="145.8" cy="9.5" r="1.5" fill="#2f6fd6"/>
<path d="M167 9.2L176.8 9.2L177.5 12.5L172.5 17.6Q170.5 17.8 170 16z" fill="#f6d64a" stroke="#c99a1a" stroke-width=".6"/>
<ellipse cx="173.2" cy="7.3" rx="7.8" ry="2.6" fill="#5b9fe0" stroke="#3a78c0" stroke-width=".6"/><path d="M168.7 6.8q.6-4.3 4.6-4.3t4.4 4.3q-4.5 1.6-9 0z" fill="#6eb0ea" stroke="#3a78c0" stroke-width=".6"/>
<circle cx="177.6" cy="13.7" r="4" fill="#d8281c"/><rect x="176" y="12.1" width="3.2" height="3.2" fill="#fff"/>
<text x="186.5" y="13.2" fill="#000" text-anchor="start" style="font-size:12px;font-family:'Liberation Sans','Noto Sans CJK SC',sans-serif">自动交易</text>
<rect x="241" y="0" width="1" height="20" fill="#a0a0a0" shape-rendering="crispEdges"/>
<rect x="245" y="0" width="3" height="1" fill="#a8a8a8" shape-rendering="crispEdges"/>
<rect x="245" y="2" width="3" height="1" fill="#a8a8a8" shape-rendering="crispEdges"/>
<rect x="245" y="4" width="3" height="1" fill="#a8a8a8" shape-rendering="crispEdges"/>
<rect x="245" y="6" width="3" height="1" fill="#a8a8a8" shape-rendering="crispEdges"/>
<rect x="245" y="8" width="3" height="1" fill="#a8a8a8" shape-rendering="crispEdges"/>
<rect x="245" y="10" width="3" height="1" fill="#a8a8a8" shape-rendering="crispEdges"/>
<rect x="245" y="12" width="3" height="1" fill="#a8a8a8" shape-rendering="crispEdges"/>
<rect x="245" y="14" width="3" height="1" fill="#a8a8a8" shape-rendering="crispEdges"/>
<rect x="245" y="16" width="3" height="1" fill="#a8a8a8" shape-rendering="crispEdges"/>
<rect x="245" y="18" width="3" height="1" fill="#a8a8a8" shape-rendering="crispEdges"/>
<path d="M259.5 4.5V17.5M257 15.5H270M257.5 6.5l2-2.5l2 2.5M268 13.5l2.5 2l-2.5 2" fill="none" stroke="#4a4a4a" stroke-width="1"/>
<path d="M265.5 6v7M262.5 12.5h3M265.5 6.5h3" fill="none" stroke="#1a8f1a" stroke-width="1.3"/>
<rect x="279" y="0" width="1" height="20" fill="#a0a0a0" shape-rendering="crispEdges"/>
<rect x="280" y="0" width="25" height="20" fill="url(#sel)" shape-rendering="crispEdges"/>
<path d="M287.5 4.5V17.5M285 15.5H298M285.5 6.5l2-2.5l2 2.5M296 13.5l2.5 2l-2.5 2" fill="none" stroke="#4a4a4a" stroke-width="1"/>
<path d="M293.5 2v12" stroke="#0a7a0a" stroke-width="1"/><rect x="291.5" y="4.5" width="4" height="7" fill="#3fe85a" stroke="#0a7a0a" stroke-width="1"/>
<path d="M315.5 4.5V17.5M313 15.5H326M313.5 6.5l2-2.5l2 2.5M324 13.5l2.5 2l-2.5 2" fill="none" stroke="#4a4a4a" stroke-width="1"/>
<path d="M314 12.6q2.2-.6 3.6-3t3-2.3t2.8 2t2.6 2.4" fill="none" stroke="#2a962a" stroke-width="1.1"/>
<rect x="336" y="0" width="1" height="20" fill="#a0a0a0" shape-rendering="crispEdges"/>
<path d="M354.59999999999997 12L359.4 16.4" stroke="#b98a14" stroke-width="3.2" stroke-linecap="round"/><path d="M354.79999999999995 12L359.2 16.1" stroke="#f0cf55" stroke-width="1.4" stroke-linecap="round"/>
<circle cx="350.4" cy="8" r="5" fill="url(#gz)" stroke="#3a7ad0" stroke-width="1.3"/>
<rect x="347.4" y="7.2" width="6" height="1.7" fill="#3573c4"/>
<rect x="349.54999999999995" y="5" width="1.7" height="6" fill="#3573c4"/>
<path d="M383.0 12L387.8 16.4" stroke="#b98a14" stroke-width="3.2" stroke-linecap="round"/><path d="M383.2 12L387.6 16.1" stroke="#f0cf55" stroke-width="1.4" stroke-linecap="round"/>
<circle cx="378.8" cy="8" r="5" fill="url(#gz)" stroke="#3a7ad0" stroke-width="1.3"/>
<rect x="375.8" y="7.2" width="6" height="1.7" fill="#3573c4"/>
<rect x="401" y="2" width="8" height="8" fill="#3f8f12"/><rect x="401" y="2" width="8" height="3" fill="#7ab82a"/><rect x="402.5" y="5.2" width="5.2" height="3.6" fill="#fff" opacity=".95"/><rect x="403.2" y="6.8" width="3.8" height=".9" fill="#3f8f12" opacity=".7"/><rect x="402" y="3" width="1" height="1" fill="#fff" opacity=".8"/>
<rect x="409" y="2" width="8" height="8" fill="#1a3fb0"/><rect x="409" y="2" width="8" height="3" fill="#3f6fe0"/><rect x="410.5" y="5.2" width="5.2" height="3.6" fill="#fff" opacity=".95"/><rect x="411.2" y="6.8" width="3.8" height=".9" fill="#1a3fb0" opacity=".7"/><rect x="410" y="3" width="1" height="1" fill="#fff" opacity=".8"/>
<rect x="401" y="10" width="8" height="8" fill="#1a3fb0"/><rect x="401" y="10" width="8" height="3" fill="#3f6fe0"/><rect x="402.5" y="13.2" width="5.2" height="3.6" fill="#fff" opacity=".95"/><rect x="403.2" y="14.8" width="3.8" height=".9" fill="#1a3fb0" opacity=".7"/><rect x="402" y="11" width="1" height="1" fill="#fff" opacity=".8"/>
<rect x="409" y="10" width="8" height="8" fill="#3f8f12"/><rect x="409" y="10" width="8" height="3" fill="#7ab82a"/><rect x="410.5" y="13.2" width="5.2" height="3.6" fill="#fff" opacity=".95"/><rect x="411.2" y="14.8" width="3.8" height=".9" fill="#3f8f12" opacity=".7"/><rect x="410" y="11" width="1" height="1" fill="#fff" opacity=".8"/>
<rect x="426" y="0" width="1" height="20" fill="#a0a0a0" shape-rendering="crispEdges"/>
<rect x="431" y="0" width="1" height="20" fill="#a0a0a0" shape-rendering="crispEdges"/>
<rect x="432" y="0" width="24" height="20" fill="url(#sel)" shape-rendering="crispEdges"/>
<path d="M439.5 4.5V17.5M437 15.5H450M437.5 6.5l2-2.5l2 2.5M448 13.5l2.5 2l-2.5 2" fill="none" stroke="#4a4a4a" stroke-width="1"/>
<path d="M444 6.6L448.3 9.7L444 12.8z" fill="#eaffea" stroke="#1a9a1a" stroke-width="1.1" stroke-linejoin="round"/>
<rect x="459" y="0" width="1" height="20" fill="#a0a0a0" shape-rendering="crispEdges"/>
<rect x="460" y="0" width="24" height="20" fill="url(#sel)" shape-rendering="crispEdges"/>
<path d="M467.5 4.5V17.5M465 15.5H478M465.5 6.5l2-2.5l2 2.5M476 13.5l2.5 2l-2.5 2" fill="none" stroke="#4a4a4a" stroke-width="1"/>
<path d="M473.5 4v10" stroke="#1f5fb0" stroke-width="1.2"/><path d="M475 9.3h4.2M475 9.3l2.6-2.4M475 9.3l2.6 2.4" stroke="#d0420f" stroke-width="1.1" fill="none"/>
<rect x="488" y="0" width="1" height="20" fill="#a0a0a0" shape-rendering="crispEdges"/>
<path d="M499.5 2.5h6l3 3v9q0 1 -1 1h-8q-1 0 -1 -1v-10q0 -1 1 -1z" fill="#fff" stroke="#6a6a6a" stroke-width="1"/>
<path d="M505.5 2.5v3h3" fill="none" stroke="#8a8a8a" stroke-width="1"/>
<path d="M501.5 6v6M501.5 9h1.5" stroke="#8a8a8a" stroke-width="1" fill="none"/>
<path d="M506.5 7.5h4v4h4v4h-4v4h-4v-4h-4v-4h4z" fill="#0c8c0c"/>
<path d="M507.5 8.5h2v4h4v2h-4v4h-2v-4h-4v-2h4z" fill="url(#gp)"/>
<path d="M520 9h5l-2.5 3z" fill="#000"/>
<circle cx="544" cy="10" r="7.7" fill="url(#gc)"/><circle cx="544" cy="10" r="5.2" fill="#fff"/><circle cx="544" cy="13" r="3.5" fill="#cfe0f5" opacity=".7"/><path d="M543.7 6.2V10.6H547" fill="none" stroke="#707070" stroke-width="1.2"/>
<path d="M559 9h5l-2.5 3z" fill="#000"/>
<rect x="575.5" y="3.5" width="15" height="13" fill="#fff" stroke="#3a72d4" stroke-width="1"/><rect x="575" y="3" width="16" height="3" fill="#3f7fe0"/><rect x="576" y="10.8" width="14" height="1" fill="#7fa6e6"/><path d="M577.5 9.5l2-1l2 .6l2-1.6l2 .6l2.4-1.2" fill="none" stroke="#b2340f" stroke-width="1.1"/><path d="M577.5 14.8l2-1l2 .6l2-1.8l2 1.6l1.2-.4" fill="none" stroke="#1f9a3a" stroke-width="1.1"/>
<path d="M598 9h5l-2.5 3z" fill="#000"/>
<rect x="609" y="0" width="1" height="20" fill="#a0a0a0" shape-rendering="crispEdges"/>
<rect x="613" y="0" width="3" height="1" fill="#a8a8a8" shape-rendering="crispEdges"/>
<rect x="613" y="2" width="3" height="1" fill="#a8a8a8" shape-rendering="crispEdges"/>
<rect x="613" y="4" width="3" height="1" fill="#a8a8a8" shape-rendering="crispEdges"/>
<rect x="613" y="6" width="3" height="1" fill="#a8a8a8" shape-rendering="crispEdges"/>
<rect x="613" y="8" width="3" height="1" fill="#a8a8a8" shape-rendering="crispEdges"/>
<rect x="613" y="10" width="3" height="1" fill="#a8a8a8" shape-rendering="crispEdges"/>
<rect x="613" y="12" width="3" height="1" fill="#a8a8a8" shape-rendering="crispEdges"/>
<rect x="613" y="14" width="3" height="1" fill="#a8a8a8" shape-rendering="crispEdges"/>
<rect x="613" y="16" width="3" height="1" fill="#a8a8a8" shape-rendering="crispEdges"/>
<rect x="613" y="18" width="3" height="1" fill="#a8a8a8" shape-rendering="crispEdges"/>
<rect x="619" y="0" width="1" height="20" fill="#a0a0a0" shape-rendering="crispEdges"/>
<rect x="620" y="0" width="24" height="20" fill="url(#sel)" shape-rendering="crispEdges"/>
<path d="M627 3.2V15L629.8 12.4L632.2 17L634 16.2L631.8 11.8L635.4 11.4z" fill="#3c3c3c"/>
<path d="M652 10.5h6M661 10.5h6M659.5 3.5v5.5M659.5 12v5.5" stroke="#4a4a4a" stroke-width="1" fill="none" shape-rendering="crispEdges"/><rect x="659" y="10" width="1" height="1" fill="#4a4a4a"/>
<rect x="676" y="0" width="1" height="20" fill="#a0a0a0" shape-rendering="crispEdges"/>
<rect x="693" y="4" width="1" height="13" fill="#4a4a4a"/><rect x="716" y="10" width="12" height="1" fill="#4a4a4a"/>
<path d="M744 16.8L756 5" stroke="#4a4a4a" stroke-width="1.1"/>
<path d="M769.5 11.5L777.8 4M774.8 16.7L784 8.3" fill="none" stroke="#6a6a6a" stroke-width=".8"/><path d="M772.2 8.8L772.6 17M775.2 8.3L775.6 13.8M778.4 6L778.6 13.5M781.4 2L781.8 9.4M770.4 15.6L773.6 13M774 12.2L777 9.8M777 9.6L780.2 7M780.4 6.8L783.6 4.2" fill="none" stroke="#3c3c3c" stroke-width="1.2"/>
<text x="780.8" y="18.8" style="font-size:6.4px;font-weight:bold" fill="#3c3c3c">E</text>
<path d="M799 3.5H812" stroke="#4a4a4a" stroke-width="1" stroke-dasharray="1 1" shape-rendering="crispEdges"/>
<path d="M799 6.5H812" stroke="#4a4a4a" stroke-width="1" stroke-dasharray="1 1" shape-rendering="crispEdges"/>
<path d="M799 10.5H812" stroke="#4a4a4a" stroke-width="1" stroke-dasharray="1 1" shape-rendering="crispEdges"/>
<path d="M799 14.5H808" stroke="#4a4a4a" stroke-width="1" stroke-dasharray="1 1" shape-rendering="crispEdges"/>
<text x="808.8" y="18.8" style="font-size:6.4px;font-weight:bold" fill="#3c3c3c">F</text>
<text x="829.4" y="15.2" style="font-size:12.6px" fill="#555" stroke="#555" stroke-width=".45">A</text>
<rect x="856" y="4" width="12" height="12.5" fill="none" stroke="#4a4a4a" stroke-width="1" stroke-dasharray="1 1" shape-rendering="crispEdges"/><text x="858.7" y="14.8" style="font-size:10.3px" fill="#555" stroke="#555" stroke-width=".5">T</text>
<path d="M887 4L890.4 7.4L887 9.4L883.6 7.4z" fill="#4a4a4a"/><path d="M894 17L897.4 13.4L894 11.4L890.6 13.4z" fill="#4a4a4a"/><path d="M885.5 10.8l2.2 2.4l5-6.4" fill="none" stroke="#4a4a4a" stroke-width="1.2"/>
<path d="M904 9h5l-2.5 3z" fill="#000"/>
<rect x="915" y="0" width="1" height="22" fill="#a0a0a0" shape-rendering="crispEdges"/>
<rect x="919" y="0" width="3" height="1" fill="#a8a8a8" shape-rendering="crispEdges"/>
<rect x="919" y="2" width="3" height="1" fill="#a8a8a8" shape-rendering="crispEdges"/>
<rect x="919" y="4" width="3" height="1" fill="#a8a8a8" shape-rendering="crispEdges"/>
<rect x="919" y="6" width="3" height="1" fill="#a8a8a8" shape-rendering="crispEdges"/>
<rect x="919" y="8" width="3" height="1" fill="#a8a8a8" shape-rendering="crispEdges"/>
<rect x="919" y="10" width="3" height="1" fill="#a8a8a8" shape-rendering="crispEdges"/>
<rect x="919" y="12" width="3" height="1" fill="#a8a8a8" shape-rendering="crispEdges"/>
<rect x="919" y="14" width="3" height="1" fill="#a8a8a8" shape-rendering="crispEdges"/>
<rect x="919" y="16" width="3" height="1" fill="#a8a8a8" shape-rendering="crispEdges"/>
<rect x="919" y="18" width="3" height="1" fill="#a8a8a8" shape-rendering="crispEdges"/>
<text x="937" y="14" style="font-size:9.2px;" text-anchor="middle" fill="#3c3c3c">M1</text>
<text x="965" y="14" style="font-size:9.2px;" text-anchor="middle" fill="#3c3c3c">M5</text>
<text x="993.5" y="14" style="font-size:9.2px;" text-anchor="middle" fill="#3c3c3c">M15</text>
<text x="1021.5" y="14" style="font-size:9.2px;" text-anchor="middle" fill="#3c3c3c">M30</text>
<text x="1049.5" y="14" style="font-size:9.2px;" text-anchor="middle" fill="#3c3c3c">H1</text>
<rect x="1065" y="0" width="1" height="20" fill="#a0a0a0" shape-rendering="crispEdges"/>
<rect x="1066" y="0" width="25" height="20" fill="url(#sel)" shape-rendering="crispEdges"/>
<text x="1077" y="14" style="font-size:9.2px;" text-anchor="middle" fill="#3c3c3c">H4</text>
<text x="1105.3" y="14" style="font-size:9.2px;" text-anchor="middle" fill="#3c3c3c">D1</text>
<text x="1134.2" y="14" style="font-size:9.2px;" text-anchor="middle" fill="#3c3c3c">W1</text>
<text x="1161" y="14" style="font-size:9.2px;" text-anchor="middle" fill="#3c3c3c">MN</text>
<rect x="1176" y="0" width="1" height="20" fill="#a0a0a0" shape-rendering="crispEdges"/>
<path d="M1643.6 10.4L1639.4 14.8" stroke="#2a5fd0" stroke-width="2.4" stroke-linecap="round"/><circle cx="1646.8" cy="7.3" r="3.9" fill="#f6f6fb" stroke="#2458cc" stroke-width="1.2"/>
<path d="M1665.5 16.2l.8 2.6l2.4-2.2z" fill="#c8c8d0"/><ellipse cx="1668.6" cy="12.4" rx="5.3" ry="4.4" fill="#e2e2ec" stroke="#b4b4bc" stroke-width=".8"/>
<circle cx="1677.5" cy="7.6" r="8" fill="url(#gr)"/><text x="1677.4" y="12.3" text-anchor="middle" fill="#fff" style="font-size:13px;font-weight:bold;font-family:'Liberation Mono',monospace">1</text>
</g>
</svg>
</body></html>
